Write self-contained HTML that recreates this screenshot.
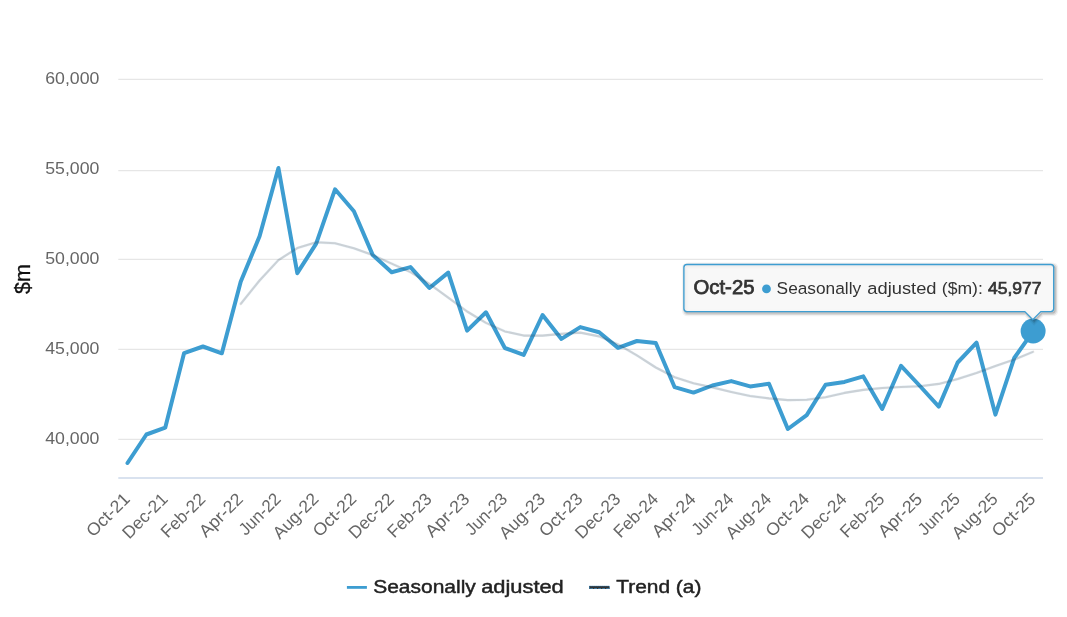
<!DOCTYPE html>
<html lang="en"><head><meta charset="utf-8"><title>Chart</title>
<style>html,body{margin:0;padding:0;background:#fff;overflow:hidden}svg{display:block}text{font-family:"Liberation Sans",Arial,sans-serif}</style></head><body>
<svg width="1067" height="617" viewBox="0 0 1067 617">
<rect width="1067" height="617" fill="#ffffff"/>
<path d="M118.3 79.33H1043.0" stroke="#e6e6e6" stroke-width="1.333" fill="none"/>
<path d="M118.3 170.67H1043.0" stroke="#e6e6e6" stroke-width="1.333" fill="none"/>
<path d="M118.3 259.33H1043.0" stroke="#e6e6e6" stroke-width="1.333" fill="none"/>
<path d="M118.3 349.33H1043.0" stroke="#e6e6e6" stroke-width="1.333" fill="none"/>
<path d="M118.3 439.33H1043.0" stroke="#e6e6e6" stroke-width="1.333" fill="none"/>
<path d="M118.3 478H1043.0" stroke="#ccd9ea" stroke-width="1.333" fill="none"/>
<text x="99.4" y="84.23" text-anchor="end" font-size="17.33" fill="#666666" textLength="54.2" lengthAdjust="spacingAndGlyphs">60,000</text>
<text x="99.4" y="174.23" text-anchor="end" font-size="17.33" fill="#666666" textLength="54.2" lengthAdjust="spacingAndGlyphs">55,000</text>
<text x="99.4" y="264.23" text-anchor="end" font-size="17.33" fill="#666666" textLength="54.2" lengthAdjust="spacingAndGlyphs">50,000</text>
<text x="99.4" y="354.23" text-anchor="end" font-size="17.33" fill="#666666" textLength="54.2" lengthAdjust="spacingAndGlyphs">45,000</text>
<text x="99.4" y="444.23" text-anchor="end" font-size="17.33" fill="#666666" textLength="54.2" lengthAdjust="spacingAndGlyphs">40,000</text>
<text transform="translate(30.2 279) rotate(-90)" text-anchor="middle" font-size="21.5" fill="#111111" stroke="#111111" stroke-width="0.3">$m</text>
<path d="M127.50 463.00 L146.37 434.50 L165.23 427.70 L184.10 353.10 L202.97 346.50 L221.84 353.30 L240.70 281.70 L259.57 236.30 L278.44 168.00 L297.30 273.20 L316.17 243.60 L335.04 189.30 L353.90 211.30 L372.77 255.10 L391.64 272.30 L410.50 267.10 L429.37 288.00 L448.24 272.60 L467.11 330.60 L485.97 312.30 L504.84 348.00 L523.71 354.90 L542.57 315.00 L561.44 338.90 L580.31 327.10 L599.17 332.30 L618.04 347.90 L636.91 341.00 L655.78 343.00 L674.64 387.20 L693.51 392.60 L712.38 385.50 L731.24 381.10 L750.11 386.40 L768.98 383.80 L787.85 429.00 L806.71 415.10 L825.58 384.70 L844.45 381.90 L863.31 376.40 L882.18 409.00 L901.05 365.80 L919.91 386.00 L938.78 406.60 L957.65 362.50 L976.51 342.60 L995.38 414.60 L1014.25 357.90 L1033.12 331.30" stroke="#3d9dd1" stroke-width="4" fill="none" stroke-linejoin="round" stroke-linecap="round"/>
<path d="M240.70 303.90 L259.57 280.50 L278.44 260.10 L297.30 248.10 L316.17 242.30 L335.04 243.30 L353.90 248.30 L372.77 255.10 L391.64 263.60 L410.50 272.10 L429.37 283.80 L448.24 297.60 L467.11 311.50 L485.97 322.90 L504.84 331.40 L523.71 335.60 L542.57 335.60 L561.44 333.90 L580.31 332.60 L599.17 336.40 L618.04 344.40 L636.91 355.40 L655.78 367.50 L674.64 377.20 L693.51 383.30 L712.38 387.40 L731.24 391.90 L750.11 396.00 L768.98 398.40 L787.85 400.10 L806.71 399.70 L825.58 397.20 L844.45 392.90 L863.31 389.90 L882.18 388.00 L901.05 387.00 L919.91 386.30 L938.78 383.90 L957.65 379.00 L976.51 372.90 L995.38 366.10 L1014.25 359.60 L1033.12 351.80" stroke="#2a8fd4" stroke-opacity="0.08" stroke-width="2.9" fill="none" stroke-linejoin="round"/>
<path d="M240.70 303.90 L259.57 280.50 L278.44 260.10 L297.30 248.10 L316.17 242.30 L335.04 243.30 L353.90 248.30 L372.77 255.10 L391.64 263.60 L410.50 272.10 L429.37 283.80 L448.24 297.60 L467.11 311.50 L485.97 322.90 L504.84 331.40 L523.71 335.60 L542.57 335.60 L561.44 333.90 L580.31 332.60 L599.17 336.40 L618.04 344.40 L636.91 355.40 L655.78 367.50 L674.64 377.20 L693.51 383.30 L712.38 387.40 L731.24 391.90 L750.11 396.00 L768.98 398.40 L787.85 400.10 L806.71 399.70 L825.58 397.20 L844.45 392.90 L863.31 389.90 L882.18 388.00 L901.05 387.00 L919.91 386.30 L938.78 383.90 L957.65 379.00 L976.51 372.90 L995.38 366.10 L1014.25 359.60 L1033.12 351.80" stroke="#333333" stroke-opacity="0.19" stroke-width="2.1" fill="none" stroke-linejoin="round" stroke-linecap="square"/>
<circle cx="1033.12" cy="331.0" r="12.5" fill="#3d9dd1"/>
<text transform="translate(131.00 500.10) rotate(-45)" text-anchor="end" font-size="17.33" fill="#666666" textLength="53.3" lengthAdjust="spacingAndGlyphs">Oct-21</text>
<text transform="translate(168.73 500.10) rotate(-45)" text-anchor="end" font-size="17.33" fill="#666666" textLength="56.0" lengthAdjust="spacingAndGlyphs">Dec-21</text>
<text transform="translate(206.46 500.10) rotate(-45)" text-anchor="end" font-size="17.33" fill="#666666" textLength="54.7" lengthAdjust="spacingAndGlyphs">Feb-22</text>
<text transform="translate(244.19 500.10) rotate(-45)" text-anchor="end" font-size="17.33" fill="#666666" textLength="54.1" lengthAdjust="spacingAndGlyphs">Apr-22</text>
<text transform="translate(281.92 500.10) rotate(-45)" text-anchor="end" font-size="17.33" fill="#666666" textLength="51.3" lengthAdjust="spacingAndGlyphs">Jun-22</text>
<text transform="translate(319.65 500.10) rotate(-45)" text-anchor="end" font-size="17.33" fill="#666666" textLength="56.5" lengthAdjust="spacingAndGlyphs">Aug-22</text>
<text transform="translate(357.38 500.10) rotate(-45)" text-anchor="end" font-size="17.33" fill="#666666" textLength="53.3" lengthAdjust="spacingAndGlyphs">Oct-22</text>
<text transform="translate(395.11 500.10) rotate(-45)" text-anchor="end" font-size="17.33" fill="#666666" textLength="56.0" lengthAdjust="spacingAndGlyphs">Dec-22</text>
<text transform="translate(432.84 500.10) rotate(-45)" text-anchor="end" font-size="17.33" fill="#666666" textLength="54.7" lengthAdjust="spacingAndGlyphs">Feb-23</text>
<text transform="translate(470.57 500.10) rotate(-45)" text-anchor="end" font-size="17.33" fill="#666666" textLength="54.1" lengthAdjust="spacingAndGlyphs">Apr-23</text>
<text transform="translate(508.30 500.10) rotate(-45)" text-anchor="end" font-size="17.33" fill="#666666" textLength="51.3" lengthAdjust="spacingAndGlyphs">Jun-23</text>
<text transform="translate(546.03 500.10) rotate(-45)" text-anchor="end" font-size="17.33" fill="#666666" textLength="56.5" lengthAdjust="spacingAndGlyphs">Aug-23</text>
<text transform="translate(583.76 500.10) rotate(-45)" text-anchor="end" font-size="17.33" fill="#666666" textLength="53.3" lengthAdjust="spacingAndGlyphs">Oct-23</text>
<text transform="translate(621.49 500.10) rotate(-45)" text-anchor="end" font-size="17.33" fill="#666666" textLength="56.0" lengthAdjust="spacingAndGlyphs">Dec-23</text>
<text transform="translate(659.22 500.10) rotate(-45)" text-anchor="end" font-size="17.33" fill="#666666" textLength="54.7" lengthAdjust="spacingAndGlyphs">Feb-24</text>
<text transform="translate(696.95 500.10) rotate(-45)" text-anchor="end" font-size="17.33" fill="#666666" textLength="54.1" lengthAdjust="spacingAndGlyphs">Apr-24</text>
<text transform="translate(734.68 500.10) rotate(-45)" text-anchor="end" font-size="17.33" fill="#666666" textLength="51.3" lengthAdjust="spacingAndGlyphs">Jun-24</text>
<text transform="translate(772.41 500.10) rotate(-45)" text-anchor="end" font-size="17.33" fill="#666666" textLength="56.5" lengthAdjust="spacingAndGlyphs">Aug-24</text>
<text transform="translate(810.14 500.10) rotate(-45)" text-anchor="end" font-size="17.33" fill="#666666" textLength="53.3" lengthAdjust="spacingAndGlyphs">Oct-24</text>
<text transform="translate(847.87 500.10) rotate(-45)" text-anchor="end" font-size="17.33" fill="#666666" textLength="56.0" lengthAdjust="spacingAndGlyphs">Dec-24</text>
<text transform="translate(885.60 500.10) rotate(-45)" text-anchor="end" font-size="17.33" fill="#666666" textLength="54.7" lengthAdjust="spacingAndGlyphs">Feb-25</text>
<text transform="translate(923.33 500.10) rotate(-45)" text-anchor="end" font-size="17.33" fill="#666666" textLength="54.1" lengthAdjust="spacingAndGlyphs">Apr-25</text>
<text transform="translate(961.06 500.10) rotate(-45)" text-anchor="end" font-size="17.33" fill="#666666" textLength="51.3" lengthAdjust="spacingAndGlyphs">Jun-25</text>
<text transform="translate(998.79 500.10) rotate(-45)" text-anchor="end" font-size="17.33" fill="#666666" textLength="56.5" lengthAdjust="spacingAndGlyphs">Aug-25</text>
<text transform="translate(1036.52 500.10) rotate(-45)" text-anchor="end" font-size="17.33" fill="#666666" textLength="53.3" lengthAdjust="spacingAndGlyphs">Oct-25</text>
<path d="M346.9 587.4H366.9" stroke="#3d9dd1" stroke-width="2.8" fill="none"/>
<text y="593.2" font-size="18.67" fill="#222222" stroke="#222222" stroke-width="0.45"><tspan x="373.2" textLength="102.6" lengthAdjust="spacingAndGlyphs">Seasonally</tspan> <tspan x="481.2" textLength="82.6" lengthAdjust="spacingAndGlyphs">adjusted</tspan></text>
<path d="M589.1 587.4H609.6" stroke="#2a8fd4" stroke-width="3" fill="none"/>
<path d="M589.6 587.4H609.4" stroke="#333333" stroke-width="1.9" fill="none"/>
<path d="M589.6 588.4H609.4" stroke="#333333" stroke-width="1" stroke-dasharray="1.2 2.8" stroke-dashoffset="0.6" fill="none"/>
<path d="M589.6 586.4H609.4" stroke="#333333" stroke-width="1" stroke-dasharray="1 1" fill="none"/>
<text x="616.2" y="593.2" font-size="18.67" fill="#222222" stroke="#222222" stroke-width="0.45" textLength="85.2" lengthAdjust="spacingAndGlyphs">Trend (a)</text>
<path d="M688.233 265.833H1052.0330000000001Q1055.0330000000001 265.833 1055.0330000000001 268.833V309.93300000000005Q1055.0330000000001 312.93300000000005 1052.0330000000001 312.93300000000005H1042.133L1034.133 320.93300000000005L1026.133 312.93300000000005H688.233Q685.233 312.93300000000005 685.233 309.93300000000005V268.833Q685.233 265.833 688.233 265.833Z" fill="none" stroke="#000" stroke-opacity="0.05" stroke-width="6.67"/>
<path d="M688.233 265.833H1052.0330000000001Q1055.0330000000001 265.833 1055.0330000000001 268.833V309.93300000000005Q1055.0330000000001 312.93300000000005 1052.0330000000001 312.93300000000005H1042.133L1034.133 320.93300000000005L1026.133 312.93300000000005H688.233Q685.233 312.93300000000005 685.233 309.93300000000005V268.833Q685.233 265.833 688.233 265.833Z" fill="none" stroke="#000" stroke-opacity="0.1" stroke-width="4"/>
<path d="M688.233 265.833H1052.0330000000001Q1055.0330000000001 265.833 1055.0330000000001 268.833V309.93300000000005Q1055.0330000000001 312.93300000000005 1052.0330000000001 312.93300000000005H1042.133L1034.133 320.93300000000005L1026.133 312.93300000000005H688.233Q685.233 312.93300000000005 685.233 309.93300000000005V268.833Q685.233 265.833 688.233 265.833Z" fill="none" stroke="#000" stroke-opacity="0.15" stroke-width="1.333"/>
<path d="M686.9 264.5H1050.7Q1053.7 264.5 1053.7 267.5V308.6Q1053.7 311.6 1050.7 311.6H1040.8L1032.8 319.6L1024.8 311.6H686.9Q683.9 311.6 683.9 308.6V267.5Q683.9 264.5 686.9 264.5Z" fill="#f7f7f7" fill-opacity="0.85" stroke="#3d9dd1" stroke-width="1.333"/>
<text x="693.5" y="293.5" font-size="20" fill="#333333" stroke="#333333" stroke-width="0.75" textLength="61" lengthAdjust="spacingAndGlyphs">Oct-25</text>
<circle cx="766.5" cy="288.9" r="4.4" fill="#3d9dd1"/>
<text y="293.5" font-size="17.33" fill="#333333"><tspan x="776.6" textLength="84.6" lengthAdjust="spacingAndGlyphs">Seasonally</tspan> <tspan x="867.3" textLength="69.2" lengthAdjust="spacingAndGlyphs">adjusted</tspan> <tspan x="941.8" textLength="41" lengthAdjust="spacingAndGlyphs">($m):</tspan></text>
<text x="988" y="293.5" font-size="17.33" fill="#333333" stroke="#333333" stroke-width="0.7" textLength="53.6" lengthAdjust="spacingAndGlyphs">45,977</text>
</svg></body></html>
